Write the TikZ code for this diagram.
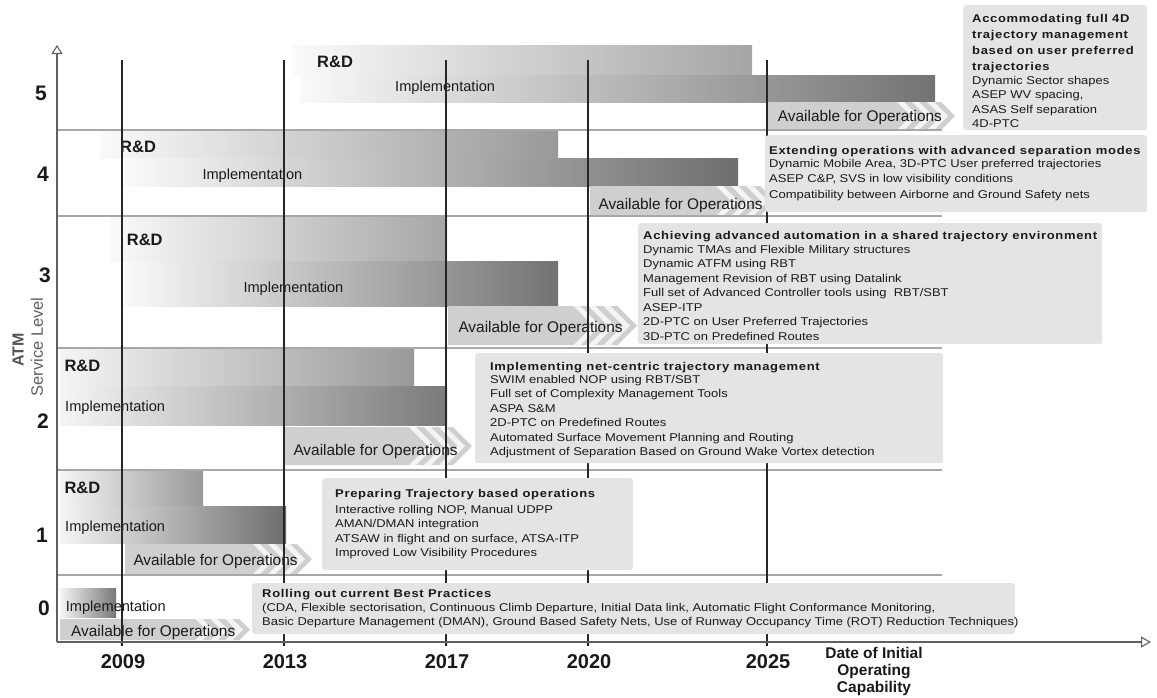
\documentclass[tikz,border=0pt]{standalone}
\usepackage{fontspec}
\setmainfont{Liberation Sans}
\newfontfamily\boxfont{Liberation Sans}[FakeStretch=1.15]
\newfontfamily\titlefont{Liberation Sans}[FakeStretch=1.15,LetterSpace=6]
\usetikzlibrary{arrows.meta}
\definecolor{boxgray}{HTML}{E4E4E4}
\definecolor{availgray}{HTML}{CFCFCF}
\definecolor{chevwhite}{HTML}{F4F4F4}
\definecolor{sepgray}{HTML}{A8A8A8}
\definecolor{axisgray}{HTML}{606060}
\definecolor{txt}{HTML}{1A1A1A}
\tikzset{
  lab/.style={anchor=base west, inner sep=0, text=txt, font=\fontsize{14.6}{16}\selectfont},
  avlab/.style={lab, font=\fontsize{15.4}{17}\selectfont},
  rdlab/.style={lab, font=\fontsize{16.5}{18}\selectfont\bfseries},
  sep/.style={draw=sepgray, line width=2pt},
  yearline/.style={draw=black!85, line width=1.3pt},
  infobox/.style={fill=boxgray, rounded corners=3pt, inner sep=0, anchor=north west},
  boxtitle/.style={anchor=base west, inner sep=0, text=txt, font=\fontsize{11.3}{16}\titlefont\bfseries},
  boxitems/.style={anchor=north west, inner sep=0, align=left, text=txt, font=\fontsize{11.3}{14.5}\boxfont},
  lvl/.style={font=\fontsize{21}{24}\selectfont\bfseries, text=black!90, inner sep=0},
  yr/.style={font=\fontsize{20}{24}\selectfont\bfseries, text=black!90, inner sep=0},
  axisline/.style={draw=axisgray},
}
\newcommand\AvBar[4]{%
  \pgfmathsetmacro\avT{(#4-#2)/2}%
  \pgfmathsetmacro\avB{#3-\avT}%
  \pgfmathsetmacro\avM{(#2+#4)/2}%
  \fill[availgray] (#1,#2) -- (\avB,#2) -- (#3,\avM) -- (\avB,#4) -- (#1,#4) -- cycle;
  \foreach \k in {0,1,2}{%
    \pgfmathsetmacro\avC{\avB-44+15*\k}%
    \fill[chevwhite] (\avC,#2) -- (\avC+7,#2) -- (\avC+7+\avT,\avM) -- (\avC+7,#4) -- (\avC,#4) -- (\avC+\avT,\avM) -- cycle;
  }%
}
\begin{document}
\begin{tikzpicture}[x=1pt,y=-1pt]
\useasboundingbox (0,0) rectangle (1157,697);
% ---- gradient bars
% level 5
\shade[left color=black!2,right color=black!35] (293,45) rectangle (752,75);
\shade[left color=black!2,right color=black!55] (300,75) rectangle (935,102);
% level 4
\shade[left color=black!2,right color=black!40] (100,130) rectangle (558,158);
\shade[left color=black!2,right color=black!57] (125,158) rectangle (738,186);
% level 3
\shade[left color=black!2,right color=black!35] (110,216) rectangle (447,261);
\shade[left color=black!2,right color=black!55] (125,261) rectangle (558,306);
% level 2
\shade[left color=black!4,right color=black!40] (60,348) rectangle (414,386);
\shade[left color=black!4,right color=black!52] (60,386) rectangle (447,425);
% level 1
\shade[left color=black!4,right color=black!40] (60,470) rectangle (203,506);
\shade[left color=black!4,right color=black!57] (60,506) rectangle (286,543);
% level 0
\shade[left color=black!4,right color=black!53] (60,588) rectangle (116,617);
% ---- available bars
\AvBar{767}{102}{955}{130}
\AvBar{590}{186}{775}{216}
\AvBar{448}{306}{637}{345}
\AvBar{284}{427}{472}{465}
\AvBar{125}{544}{312}{574}
\AvBar{60}{619}{250}{640}
% ---- bar labels
\node[rdlab] (rd5) at (317,67.7) {R\&D};
\node[lab] (im5) at (395,91.5) {Implementation};
\node[avlab] (av5) at (777.7,121.7) {Available for Operations};
\node[rdlab] (rd4) at (120,152.3) {R\&D};
\node[lab] (im4) at (202.3,179) {Implementation};
\node[avlab] (av4) at (598.3,209) {Available for Operations};
\node[rdlab] (rd3) at (126.7,245) {R\&D};
\node[lab] (im3) at (243.3,292.7) {Implementation};
\node[avlab] (av3) at (458.3,332.3) {Available for Operations};
\node[rdlab] (rd2) at (64.3,371.7) {R\&D};
\node[lab] (im2) at (65,411) {Implementation};
\node[avlab] (av2) at (293.3,455) {Available for Operations};
\node[rdlab] (rd1) at (64.3,493.3) {R\&D};
\node[lab] (im1) at (65,531.7) {Implementation};
\node[avlab] (av1) at (133.3,565.7) {Available for Operations};
\node[lab] (im0) at (65.7,611.7) {Implementation};
\node[avlab] (av0) at (71,636.7) {Available for Operations};
% ---- separators
\foreach \yy in {130,216,348,470,575} {\draw[sep] (57,\yy) -- (942,\yy);}
% ---- year lines and labels
\foreach \xx/\yn in {122/2009,284/2013,446/2017,588/2020,767/2025} {
  \draw[yearline] (\xx,60) -- (\xx,646);
  \node[yr] (yr\yn) at (\xx+1,662) {\yn};
}
% ---- axes
\coordinate (origin) at (57,642);
\coordinate (ytop) at (57,45);
\coordinate (xend) at (1151,642);
\draw[axisline, line width=1.6pt, -{Triangle[open, length=9pt, width=11pt, line width=1.1pt]}] (origin) -- (ytop);
\draw[axisline, line width=2.4pt, -{Triangle[open, length=10pt, width=11pt, line width=1.1pt]}] (origin) -- (xend);
% ---- info boxes
\node[infobox, minimum width=184pt, minimum height=125pt] (box5) at (963,5) {};
\node[infobox, minimum width=382pt, minimum height=77pt] (box4) at (765,135) {};
\node[infobox, minimum width=464pt, minimum height=121pt] (box3) at (638,223) {};
\node[infobox, minimum width=468pt, minimum height=110pt] (box2) at (475,353) {};
\node[infobox, minimum width=311pt, minimum height=92pt] (box1) at (322,478) {};
\node[infobox, minimum width=763pt, minimum height=51pt] (box0) at (252,583) {};
% ---- box texts
\node[boxtitle, anchor=north west, align=left] (t5) at (972,14) {Accommodating full 4D\\trajectory management\\based on user preferred\\trajectories};
\node[boxitems] (i5) at (972,76) {Dynamic Sector shapes\\ASEP WV spacing,\\ASAS Self separation\\4D-PTC};
\node[boxtitle] (t4) at (769,154) {Extending operations with advanced separation modes};
\node[boxitems, font=\fontsize{11.3}{15.5}\boxfont] (i4) at (769,159) {Dynamic Mobile Area, 3D-PTC User preferred trajectories\\ASEP C\&P, SVS in low visibility conditions\\Compatibility between Airborne and Ground Safety nets};
\node[boxtitle] (t3) at (643,239) {Achieving advanced automation in a shared trajectory environment};
\node[boxitems] (i3) at (643,245) {Dynamic TMAs and Flexible Military structures\\Dynamic ATFM using RBT\\Management Revision of RBT using Datalink\\Full set of Advanced Controller tools using\ \ RBT/SBT\\ASEP-ITP\\2D-PTC on User Preferred Trajectories\\3D-PTC on Predefined Routes};
\node[boxtitle] (t2) at (490,370) {Implementing net-centric trajectory management};
\node[boxitems] (i2) at (490,375) {SWIM enabled NOP using RBT/SBT\\Full set of Complexity Management Tools\\ASPA S\&M\\2D-PTC on Predefined Routes\\Automated Surface Movement Planning and Routing\\Adjustment of Separation Based on Ground Wake Vortex detection};
\node[boxtitle] (t1) at (335,497) {Preparing Trajectory based operations};
\node[boxitems] (i1) at (335,505) {Interactive rolling NOP, Manual UDPP\\AMAN/DMAN integration\\ATSAW in flight and on surface, ATSA-ITP\\Improved Low Visibility Procedures};
\node[boxtitle] (t0) at (262,597) {Rolling out current Best Practices};
\node[boxitems] (i0) at (262,603) {(CDA, Flexible sectorisation, Continuous Climb Departure, Initial Data link, Automatic Flight Conformance Monitoring,\\Basic Departure Management (DMAN), Ground Based Safety Nets, Use of Runway Occupancy Time (ROT) Reduction Techniques)};
% ---- level numbers
\node[lvl] (n5) at (41,93.5) {5};
\node[lvl] (n4) at (43,174) {4};
\node[lvl] (n3) at (45,275) {3};
\node[lvl] (n2) at (43,421) {2};
\node[lvl] (n1) at (42,535) {1};
\node[lvl] (n0) at (44,608) {0};
% ---- axis titles
\node[rotate=90, inner sep=0, text=black!68, font=\fontsize{16}{18}\selectfont\bfseries] (atm) at (18,350) {ATM};
\node[rotate=90, inner sep=0, text=black!62, font=\fontsize{16.5}{18}\selectfont] (svc) at (37,347) {Service Level};
\node[anchor=north, align=center, inner sep=0, text=txt, font=\fontsize{15.5}{17}\selectfont\bfseries] (doc) at (874,647.5) {Date of Initial\\Operating\\Capability};
\end{tikzpicture}
\end{document}
